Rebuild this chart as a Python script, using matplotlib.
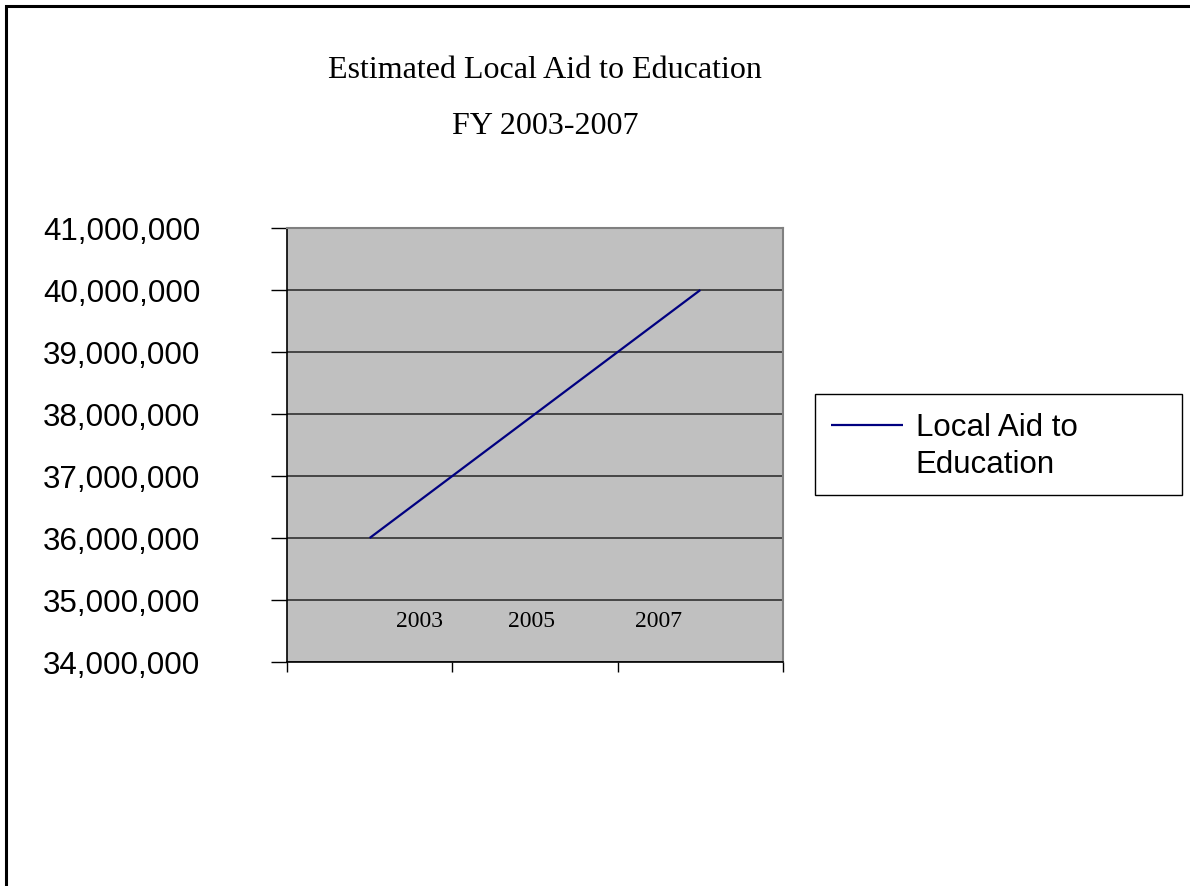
import matplotlib
matplotlib.use("Agg")
import matplotlib.pyplot as plt
from matplotlib.patches import Rectangle
from matplotlib.ticker import FuncFormatter, FixedLocator

years = ["2003", "2005", "2007"]
aid_values = [36_000_000, 38_000_000, 40_000_000]
series_label = "Local Aid to\nEducation"
title_lines = ["Estimated Local Aid to Education", "FY 2003-2007"]
y_ticks = [34_000_000 + i * 1_000_000 for i in range(8)]
# where the reference draws its year labels (in category units)
label_pos = [0.30, 0.98, 1.745]

W, H, DPI = 1190, 886, 100
fig = plt.figure(figsize=(W / DPI, H / DPI), dpi=DPI)
fig.patch.set_facecolor("white")

def fx(px):
    return px / W

def fy(py):
    return 1 - py / H

# outer chart border (extends beyond right/bottom)
fig.add_artist(Rectangle((fx(6), fy(H + 20)), fx(W + 20), (H + 14) / H,
                         transform=fig.transFigure, fill=False,
                         edgecolor="black", linewidth=2.2, zorder=0))

ax = fig.add_axes([fx(287), fy(662), fx(783) - fx(287), (662 - 228) / H])
ax.set_facecolor("#C0C0C0")

x = list(range(len(years)))
ax.plot(x, aid_values, color="#000080", linewidth=1.6, label=series_label,
        solid_capstyle="butt", zorder=3)

ax.set_xlim(-0.5, len(years) - 0.5)
ax.set_ylim(y_ticks[0], y_ticks[-1])
ax.set_yticks(y_ticks)
ax.yaxis.set_major_formatter(FuncFormatter(lambda v, p: f"{int(v):,}"))
ax.grid(axis="y", color="#303030", linewidth=1.2, zorder=1)
ax.set_axisbelow(True)

ax.set_xticks(label_pos, years)
ax.xaxis.set_minor_locator(FixedLocator([i - 0.5 for i in range(len(years) + 1)]))
ax.tick_params(axis="x", which="major", length=0, pad=-37,
               labelsize=17, labelfontfamily="Liberation Serif")
ax.tick_params(axis="x", which="minor", length=7, width=1.0, direction="out", color="black")
ax.tick_params(axis="y", which="major", length=11.5, width=1.0, direction="out",
               pad=51, labelsize=22.6, labelfontfamily="Liberation Sans", color="black")

for s in ["top", "right"]:
    ax.spines[s].set_color("#808080")
    ax.spines[s].set_linewidth(1.5)
for s in ["left", "bottom"]:
    ax.spines[s].set_color("black")
    ax.spines[s].set_linewidth(1.2)

fig.text(fx(545), fy(71), title_lines[0], ha="center", va="center",
         family="Liberation Serif", fontsize=23)
fig.text(fx(545), fy(127), title_lines[1], ha="center", va="center",
         family="Liberation Serif", fontsize=23)

# legend frame (fixed size like the reference)
fig.add_artist(Rectangle((fx(815), fy(495)), fx(1182) - fx(815), (495 - 394) / H,
                         transform=fig.transFigure, facecolor="white",
                         edgecolor="black", linewidth=1.0, zorder=4))
leg = ax.legend(loc="upper left", bbox_to_anchor=(fx(815), fy(397)),
                bbox_transform=fig.transFigure, frameon=False,
                prop={"family": "Liberation Sans", "size": 22.5},
                handlelength=2.3, handletextpad=0.42, borderpad=0.5,
                handleheight=0.95, labelspacing=0.3, borderaxespad=0)
for t in leg.get_texts():
    t.set_linespacing(1.32)
try:
    for col in leg._legend_handle_box.get_children():
        for row in col.get_children():
            row.align = "top"
except Exception:
    pass
leg.set_zorder(5)
fig.add_artist(leg)

fig.savefig("out.png", dpi=DPI)
